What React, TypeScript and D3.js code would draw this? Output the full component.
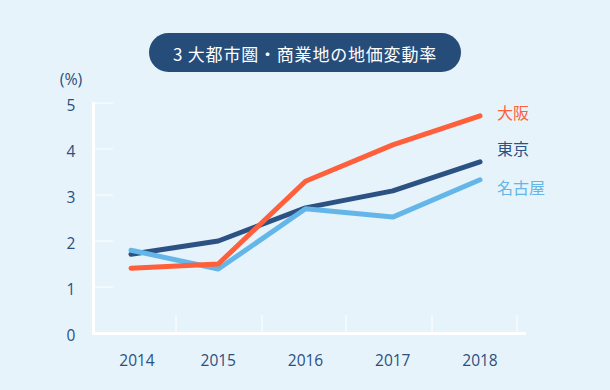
import React from "react";
import * as d3 from "d3";

const years = ["2014", "2015", "2016", "2017", "2018"];
const yTicks = [0, 1, 2, 3, 4, 5];
const osaka = [1.41, 1.5, 3.3, 4.09, 4.72];
const tokyo = [1.71, 2.0, 2.72, 3.09, 3.72];
const nagoya = [1.8, 1.39, 2.7, 2.52, 3.33];
const seriesNames = ["大阪", "東京", "名古屋"];
const seriesColors = ["#FF5F3A", "#2B5283", "#65B6E8"];
const title = "3 大都市圏・商業地の地価変動率";

const W = 610;
const H = 390;

export default function App() {
  const x = d3.scalePoint<string>().domain(years).range([131, 480]);
  const y = d3.scaleLinear().domain([0, 5]).range([333, 103]);
  const line = d3
    .line<number>()
    .x((_, i) => x(years[i]) as number)
    .y((d) => y(d));
  const series = [osaka, tokyo, nagoya];
  const labelY = [112, 148, 187];
  const tickXs = [176, 262, 346, 432, 517];
  const textColor = "#2B4F7E";
  const font = "'Open Sans', 'Noto Sans', sans-serif";
  const cjk = "'Noto Sans CJK JP', 'Noto Sans', sans-serif";

  return (
    <svg
      width={W}
      height={H}
      style={{ position: "absolute", left: 0, top: 0, display: "block" }}
    >
      <rect x={0} y={0} width={W} height={H} fill="#E6F3FB" />
      <rect x={149} y={33} width={312} height={39} rx={19.5} fill="#264D7A" />
      <text
        x={305}
        y={53}
        textAnchor="middle"
        dominantBaseline="central"
        fill="#fff"
        fontFamily={cjk}
        fontSize={17}
        fontWeight={400}
        letterSpacing={0.8}
      >
        {title}
      </text>

      <text x={71} y={79} textAnchor="middle" dominantBaseline="central" fill={textColor} fontFamily={font} fontSize={16}>
        (%)
      </text>

      {yTicks.map((t) => (
        <g key={t}>
          {t > 0 && <line x1={95} x2={113} y1={y(t)} y2={y(t)} stroke="#fff" strokeWidth={1} />}
          <text
            x={71}
            y={y(t) + 2}
            textAnchor="middle"
            dominantBaseline="central"
            fill={textColor}
            fontFamily={font}
            fontSize={15.5}
          >
            {t}
          </text>
        </g>
      ))}

      {tickXs.map((tx) => (
        <line key={tx} x1={tx} x2={tx} y1={315} y2={333} stroke="#fff" strokeWidth={1} />
      ))}
      {years.map((yr, i) => (
        <text
          key={yr}
          x={(x(yr) as number) + (i === 0 ? 6 : 0)}
          y={360}
          textAnchor="middle"
          dominantBaseline="central"
          fill={textColor}
          fontFamily={font}
          fontSize={15.5}
        >
          {yr}
        </text>
      ))}

      <line x1={93.5} x2={93.5} y1={102} y2={335} stroke="#fff" strokeWidth={3} />
      <line x1={92} x2={526} y1={333.5} y2={333.5} stroke="#fff" strokeWidth={3} />

      {[1, 2, 0].map((si) => (
        <path
          key={si}
          d={line(series[si]) || ""}
          fill="none"
          stroke={seriesColors[si]}
          strokeWidth={5}
          strokeLinecap="round"
          strokeLinejoin="round"
        />
      ))}

      {seriesNames.map((n, i) => (
        <text
          key={n}
          x={497}
          y={labelY[i]}
          dominantBaseline="central"
          fill={seriesColors[i]}
          fontFamily={cjk}
          fontSize={16}
        >
          {n}
        </text>
      ))}
    </svg>
  );
}
